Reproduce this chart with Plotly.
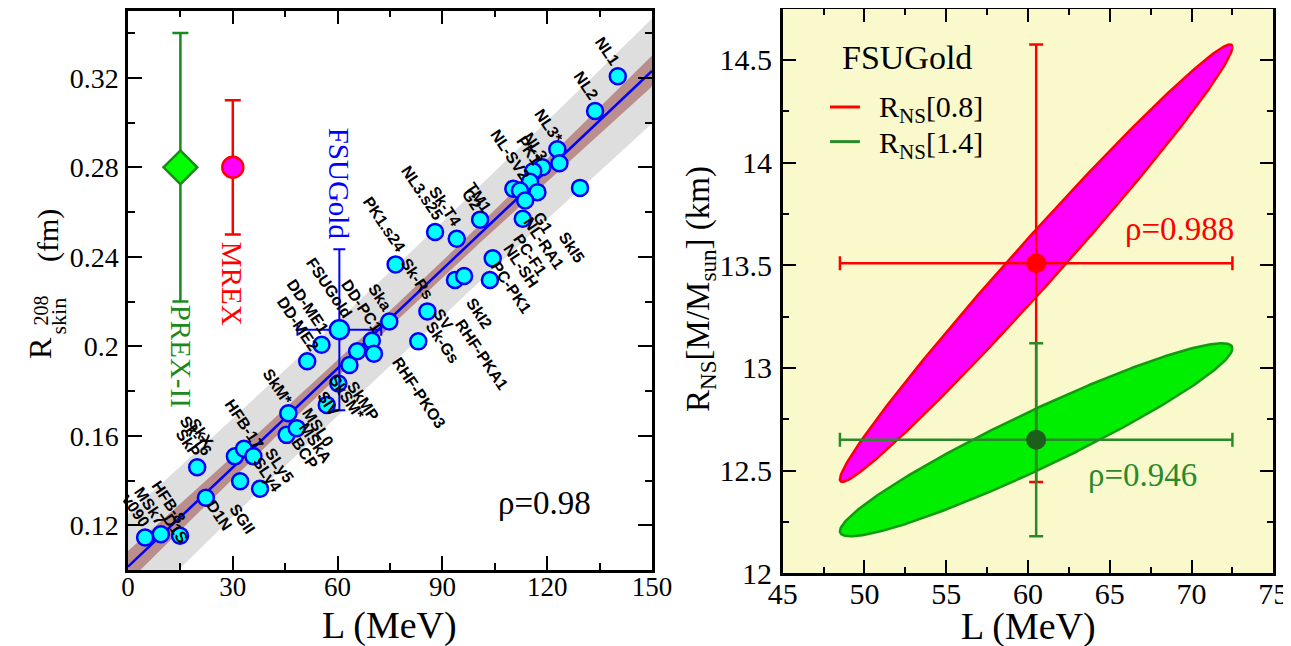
import numpy as np
import plotly.graph_objects as go

# ---------------- Left panel data ----------------
model_L = [140.2, 133.7, 122.9, 123.5, 118.6, 116.0, 115.1, 117.2, 110.3, 112.2, 113.7, 113.0, 129.4,
           100.8, 94.1, 87.9, 76.6, 104.4, 103.6, 93.6, 96.2, 85.7, 83.1, 74.8,
           55.4, 51.3, 69.8, 70.4, 65.6, 63.4, 60.2, 56.9, 45.9, 45.4, 48.3,
           30.6, 33.2, 35.9, 32.1, 37.8, 22.3, 19.8, 4.9, 9.4, 14.9]
model_R = [0.3207, 0.3052, 0.2881, 0.2818, 0.2800, 0.2782, 0.2735, 0.2689, 0.2704, 0.2696, 0.2652, 0.2570, 0.2708,
           0.2566, 0.2481, 0.2511, 0.2366, 0.2393, 0.2296, 0.2296, 0.2314, 0.2156, 0.2022, 0.2111,
           0.2007, 0.1933, 0.2025, 0.1967, 0.1978, 0.1916, 0.1834, 0.1738, 0.1701, 0.1604, 0.1634,
           0.1508, 0.1542, 0.1508, 0.1397, 0.1363, 0.1323, 0.1459, 0.1145, 0.1160, 0.1153]

label_names = ["NL1", "NL2", "NL3*", "NL3", "PK1", "NL-SV2", "TM1", "G2", "NL3.s25", "Sk-T4", "PK1.s24",
               "Sk-Rs", "SV", "Sk-Gs", "RHF-PKO3", "SkI2", "RHF-PKA1", "G1", "NL-RA1", "PC-F1", "NL-SH",
               "PC-PK1", "SkI5", "Ska", "DD-PC1", "FSUGold", "DD-ME1", "DD-ME2", "SkM*", "SkMP", "SkSM*",
               "SIV", "MSL0", "MSkA", "BCP", "HFB-17", "SLy5", "SLy4", "SkX", "Sk-T6", "SkP", "D1N", "SGII",
               "HFB-8", "D1S", "MSk7", "v090"]
label_L = [137.0, 131.1, 120.3, 116.5, 114.9, 109.4, 100.3, 98.4, 84.2, 90.8, 73.4,
           82.8, 90.2, 90.0, 83.2, 100.6, 101.2, 118.7, 119.0, 115.0, 112.5,
           109.7, 127.0, 72.1, 67.1, 57.5, 51.5, 48.5, 43.0, 67.4, 62.6,
           57.4, 54.5, 53.8, 50.7, 33.3, 43.3, 39.8, 21.1, 19.6, 17.3, 26.1, 32.6,
           11.5, 13.6, 6.4, 2.2]
label_R = [0.3320, 0.3166, 0.2985, 0.2892, 0.2877, 0.2858, 0.2663, 0.2656, 0.2689, 0.2624, 0.2545,
           0.2305, 0.2119, 0.2015, 0.1793, 0.2148, 0.1962, 0.2552, 0.2458, 0.2410, 0.2363,
           0.2264, 0.2441, 0.2216, 0.2180, 0.2262, 0.2178, 0.2100, 0.1818, 0.1754, 0.1769,
           0.1746, 0.1639, 0.1567, 0.1522, 0.1650, 0.1465, 0.1425, 0.1612, 0.1598, 0.1567, 0.1242, 0.1228,
           0.1305, 0.1185, 0.1286, 0.1266]

# FSUGold with its error bars
fsu_L, fsu_R = 60.5, 0.2074
fsu_dL, fsu_dR = 12.0, 0.036

# Experiments
prex_L, prex_R, prex_dR = 15.0, 0.28, 0.06
mrex_L, mrex_R, mrex_dR = 30.0, 0.28, 0.03

# Linear fit and bands
fit_a, fit_b = 0.1015, 0.001477
fit_Lmid = 75.0
conf_hw0, conf_c1 = 0.0035, 8.0e-5
pred_hw0, pred_c1 = 0.021, 1.4e-4

left_xticks = [0, 30, 60, 90, 120, 150]
left_xminor = [15, 45, 75, 105, 135]
left_yticks = [0.12, 0.16, 0.20, 0.24, 0.28, 0.32]
left_yticktext = ["0.12", "0.16", "0.2", "0.24", "0.28", "0.32"]
left_yminor = [0.10, 0.14, 0.18, 0.22, 0.26, 0.30, 0.34]

# ---------------- Right panel data ----------------
ns_L, ns_dL = 60.5, 12.0
ns08_R, ns08_dR, ns08_rho = 13.51, 1.065, 0.988
ns14_R, ns14_dR, ns14_rho = 12.65, 0.47, 0.946

right_xticks = [45, 50, 55, 60, 65, 70, 75]
right_xminor = [47.5, 52.5, 57.5, 62.5, 67.5, 72.5]
right_yticks = [12, 12.5, 13, 13.5, 14, 14.5]
right_yticktext = ["12", "12.5", "13", "13.5", "14", "14.5"]
right_yminor = [12.25, 12.75, 13.25, 13.75, 14.25, 14.75]

SERIF = "Liberation Serif"
SANS = "Liberation Sans"
W, H = 1291, 646
OFF = 8                       # page body margin
FW, FH = W - OFF, H - OFF     # figure size so that it fits the window

fig = go.Figure()

# bands
Lg = np.linspace(0, 150, 301)
Rc = fit_a + fit_b * Lg
hw_pred = np.sqrt(pred_hw0**2 + (pred_c1 * (Lg - fit_Lmid))**2)
hw_conf = np.sqrt(conf_hw0**2 + (conf_c1 * (Lg - fit_Lmid))**2)
fig.add_trace(go.Scatter(x=np.concatenate([Lg, Lg[::-1]]),
                         y=np.concatenate([Rc + hw_pred, (Rc - hw_pred)[::-1]]),
                         fill="toself", fillcolor="#dedede", line=dict(width=0),
                         mode="lines", hoverinfo="skip", showlegend=False, xaxis="x", yaxis="y"))
fig.add_trace(go.Scatter(x=np.concatenate([Lg, Lg[::-1]]),
                         y=np.concatenate([Rc + hw_conf, (Rc - hw_conf)[::-1]]),
                         fill="toself", fillcolor="#bb8e8e", line=dict(width=0),
                         mode="lines", hoverinfo="skip", showlegend=False, xaxis="x", yaxis="y"))
fig.add_trace(go.Scatter(x=Lg, y=Rc, mode="lines", line=dict(color="#0000ff", width=2.5),
                         showlegend=False, xaxis="x", yaxis="y"))

# models
fig.add_trace(go.Scatter(x=model_L, y=model_R, mode="markers",
                         marker=dict(size=16, color="#00ffff", line=dict(color="#0000ff", width=2.5)),
                         showlegend=False, xaxis="x", yaxis="y"))
# FSUGold
fig.add_trace(go.Scatter(x=[fsu_L], y=[fsu_R], mode="markers",
                         marker=dict(size=19, color="#00ffff", line=dict(color="#0000ff", width=2.5)),
                         error_x=dict(type="data", array=[fsu_dL], color="#0000ff", thickness=2, width=6),
                         error_y=dict(type="data", array=[fsu_dR], color="#0000ff", thickness=2, width=6),
                         showlegend=False, xaxis="x", yaxis="y"))
# PREX-II
fig.add_trace(go.Scatter(x=[prex_L], y=[prex_R], mode="markers",
                         marker=dict(symbol="diamond", size=26, color="#00ff00", line=dict(color="#1a8a1a", width=2.5)),
                         error_y=dict(type="data", array=[prex_dR], color="#1a8a1a", thickness=2.5, width=8),
                         showlegend=False, xaxis="x", yaxis="y"))
# MREX
fig.add_trace(go.Scatter(x=[mrex_L], y=[mrex_R], mode="markers",
                         marker=dict(symbol="circle", size=21, color="#ff00ff", line=dict(color="#ff0000", width=2.5)),
                         error_y=dict(type="data", array=[mrex_dR], color="#ff0000", thickness=2.5, width=8),
                         showlegend=False, xaxis="x", yaxis="y"))

# ---------------- Right panel ----------------
t = np.linspace(0, 2 * np.pi, 400)
def ellipse(cx, sx, cy, sy, rho):
    x = cx + sx * np.cos(t)
    y = cy + sy * (rho * np.cos(t) + np.sqrt(1 - rho**2) * np.sin(t))
    return x, y

ex, ey = ellipse(ns_L, ns_dL, ns08_R, ns08_dR, ns08_rho)
fig.add_trace(go.Scatter(x=ex, y=ey, mode="lines", fill="toself", fillcolor="#ff00ff",
                         line=dict(color="#ff0000", width=2.5), showlegend=False, xaxis="x2", yaxis="y2"))
ex, ey = ellipse(ns_L, ns_dL, ns14_R, ns14_dR, ns14_rho)
fig.add_trace(go.Scatter(x=ex, y=ey, mode="lines", fill="toself", fillcolor="#00ee00",
                         line=dict(color="#119911", width=2.5), showlegend=False, xaxis="x2", yaxis="y2"))

fig.add_trace(go.Scatter(x=[ns_L], y=[ns08_R], mode="markers",
                         marker=dict(size=20, color="#ff0000"),
                         error_x=dict(type="data", array=[ns_dL], color="#ff0000", thickness=2.5, width=7),
                         error_y=dict(type="data", array=[ns08_dR], color="#ff0000", thickness=2.5, width=7),
                         showlegend=False, xaxis="x2", yaxis="y2"))
fig.add_trace(go.Scatter(x=[ns_L], y=[ns14_R], mode="markers",
                         marker=dict(size=20, color="#1c5e1c"),
                         error_x=dict(type="data", array=[ns_dL], color="#2a8a2a", thickness=2.5, width=7),
                         error_y=dict(type="data", array=[ns14_dR], color="#2a8a2a", thickness=2.5, width=7),
                         showlegend=False, xaxis="x2", yaxis="y2"))

# ---------------- Layout ----------------
def px2fx(px):
    return min(max((px - OFF) / FW, 0.0), 1.0)

def py2fy(py):
    return min(max(1 - (py - OFF) / FH, 0.0), 1.0)

def axis_common(fs):
    return dict(showline=True, linecolor="black", linewidth=2.5, mirror="allticks",
                ticks="inside", ticklen=14, tickwidth=2, tickcolor="black",
                showgrid=False, zeroline=False,
                tickfont=dict(family=SERIF, size=fs, color="black"))

fig.update_layout(
    width=FW, height=FH, margin=dict(l=0, r=0, t=0, b=0, autoexpand=False),
    paper_bgcolor="white", plot_bgcolor="rgba(0,0,0,0)",
    xaxis=dict(domain=[px2fx(128), px2fx(652)], range=[0, 150], anchor="y", automargin=False,
               tickmode="array", tickvals=left_xticks, ticklabelstandoff=-9,
               minor=dict(tickvals=left_xminor, ticklen=7, tickwidth=2, ticks="inside", tickcolor="black"),
               **axis_common(27)),
    yaxis=dict(domain=[py2fy(570), py2fy(10.7)], range=[0.10, 0.35], anchor="x", automargin=False,
               tickmode="array", tickvals=left_yticks, ticktext=left_yticktext, ticklabelstandoff=1,
               minor=dict(tickvals=left_yminor, ticklen=7, tickwidth=2, ticks="inside", tickcolor="black"),
               **axis_common(28)),
    xaxis2=dict(domain=[px2fx(782.7), px2fx(1273.3)], range=[45, 75], anchor="y2", automargin=False,
                tickmode="array", tickvals=right_xticks, ticklabelstandoff=-8,
                minor=dict(tickvals=right_xminor, ticklen=7, tickwidth=2, ticks="inside", tickcolor="black"),
                **axis_common(30)),
    yaxis2=dict(domain=[py2fy(573.3), py2fy(8.5)], range=[12, 14.75], anchor="x2", automargin=False,
                tickmode="array", tickvals=right_yticks, ticktext=right_yticktext, ticklabelstandoff=2,
                minor=dict(tickvals=right_yminor, ticklen=7, tickwidth=2, ticks="inside", tickcolor="black"),
                **axis_common(30)),
)

shapes = [dict(type="rect", xref="x2 domain", yref="y2 domain", x0=0, x1=1, y0=0, y1=1,
               fillcolor="#f9f9cb", line=dict(width=0), layer="below"),
          dict(type="line", xref="x2 domain", yref="y2 domain", x0=0.0964, x1=0.1574, y0=0.8256, y1=0.8256,
               line=dict(color="#ff0000", width=3)),
          dict(type="line", xref="x2 domain", yref="y2 domain", x0=0.0964, x1=0.1574, y0=0.7643, y1=0.7643,
               line=dict(color="#2a8a2a", width=3))]
fig.update_layout(shapes=shapes)

ann = []
def add_text(x, y, xref, yref, text, size, color="black", family=SERIF, angle=0, xanchor="center",
             weight="normal"):
    ann.append(dict(x=x, y=y, xref=xref, yref=yref, text=text, showarrow=False, textangle=angle,
                    xanchor=xanchor, yanchor="middle",
                    font=dict(family=family, size=size, color=color, weight=weight)))

# model labels
for name, lx, ly in zip(label_names, label_L, label_R):
    add_text(lx, ly, "x", "y", name, 16, family=SANS, angle=56, weight="bold")
# vertical labels
add_text(prex_L, 0.1956, "x", "y", "PREX-II", 29, "#1a8a1a", angle=90)
add_text(mrex_L, 0.228, "x", "y", "MREX", 29, "#ff0000", angle=90)
add_text(fsu_L, 0.2725, "x", "y", "FSUGold", 29, "#0000ff", angle=90)
add_text(119.1, 0.1298, "x", "y", "ρ=0.98", 33)
# left axis titles
add_text(px2fx(390), py2fy(625), "paper", "paper", "L (MeV)", 38)
add_text(px2fx(40), py2fy(348), "paper", "paper", "R", 32, angle=-90)
add_text(px2fx(40.5), py2fy(311), "paper", "paper", "208", 20, angle=-90)
add_text(px2fx(57.5), py2fy(316), "paper", "paper", "skin", 22, angle=-90)
add_text(px2fx(48), py2fy(236), "paper", "paper", "(fm)", 30, angle=-90)
# right panel texts
add_text(px2fx(1028), py2fy(626), "paper", "paper", "L (MeV)", 38)
add_text(px2fx(700), py2fy(289), "paper", "paper", "R<sub>NS</sub>[M/M<sub>sun</sub>] (km)", 33, angle=-90)
add_text(0.2528, 0.9127, "x2 domain", "y2 domain", "FSUGold", 34)
add_text(0.1916, 0.822, "x2 domain", "y2 domain", "R<sub>NS</sub>[0.8]", 30, xanchor="left")
add_text(0.1916, 0.759, "x2 domain", "y2 domain", "R<sub>NS</sub>[1.4]", 30, xanchor="left")
add_text(69.27, 13.677, "x2", "y2", "ρ=0.988", 33, "#ff0000")
add_text(67.03, 12.479, "x2", "y2", "ρ=0.946", 33, "#2a8a2a")
fig.update_layout(annotations=ann)

fig.write_html("out.html")
